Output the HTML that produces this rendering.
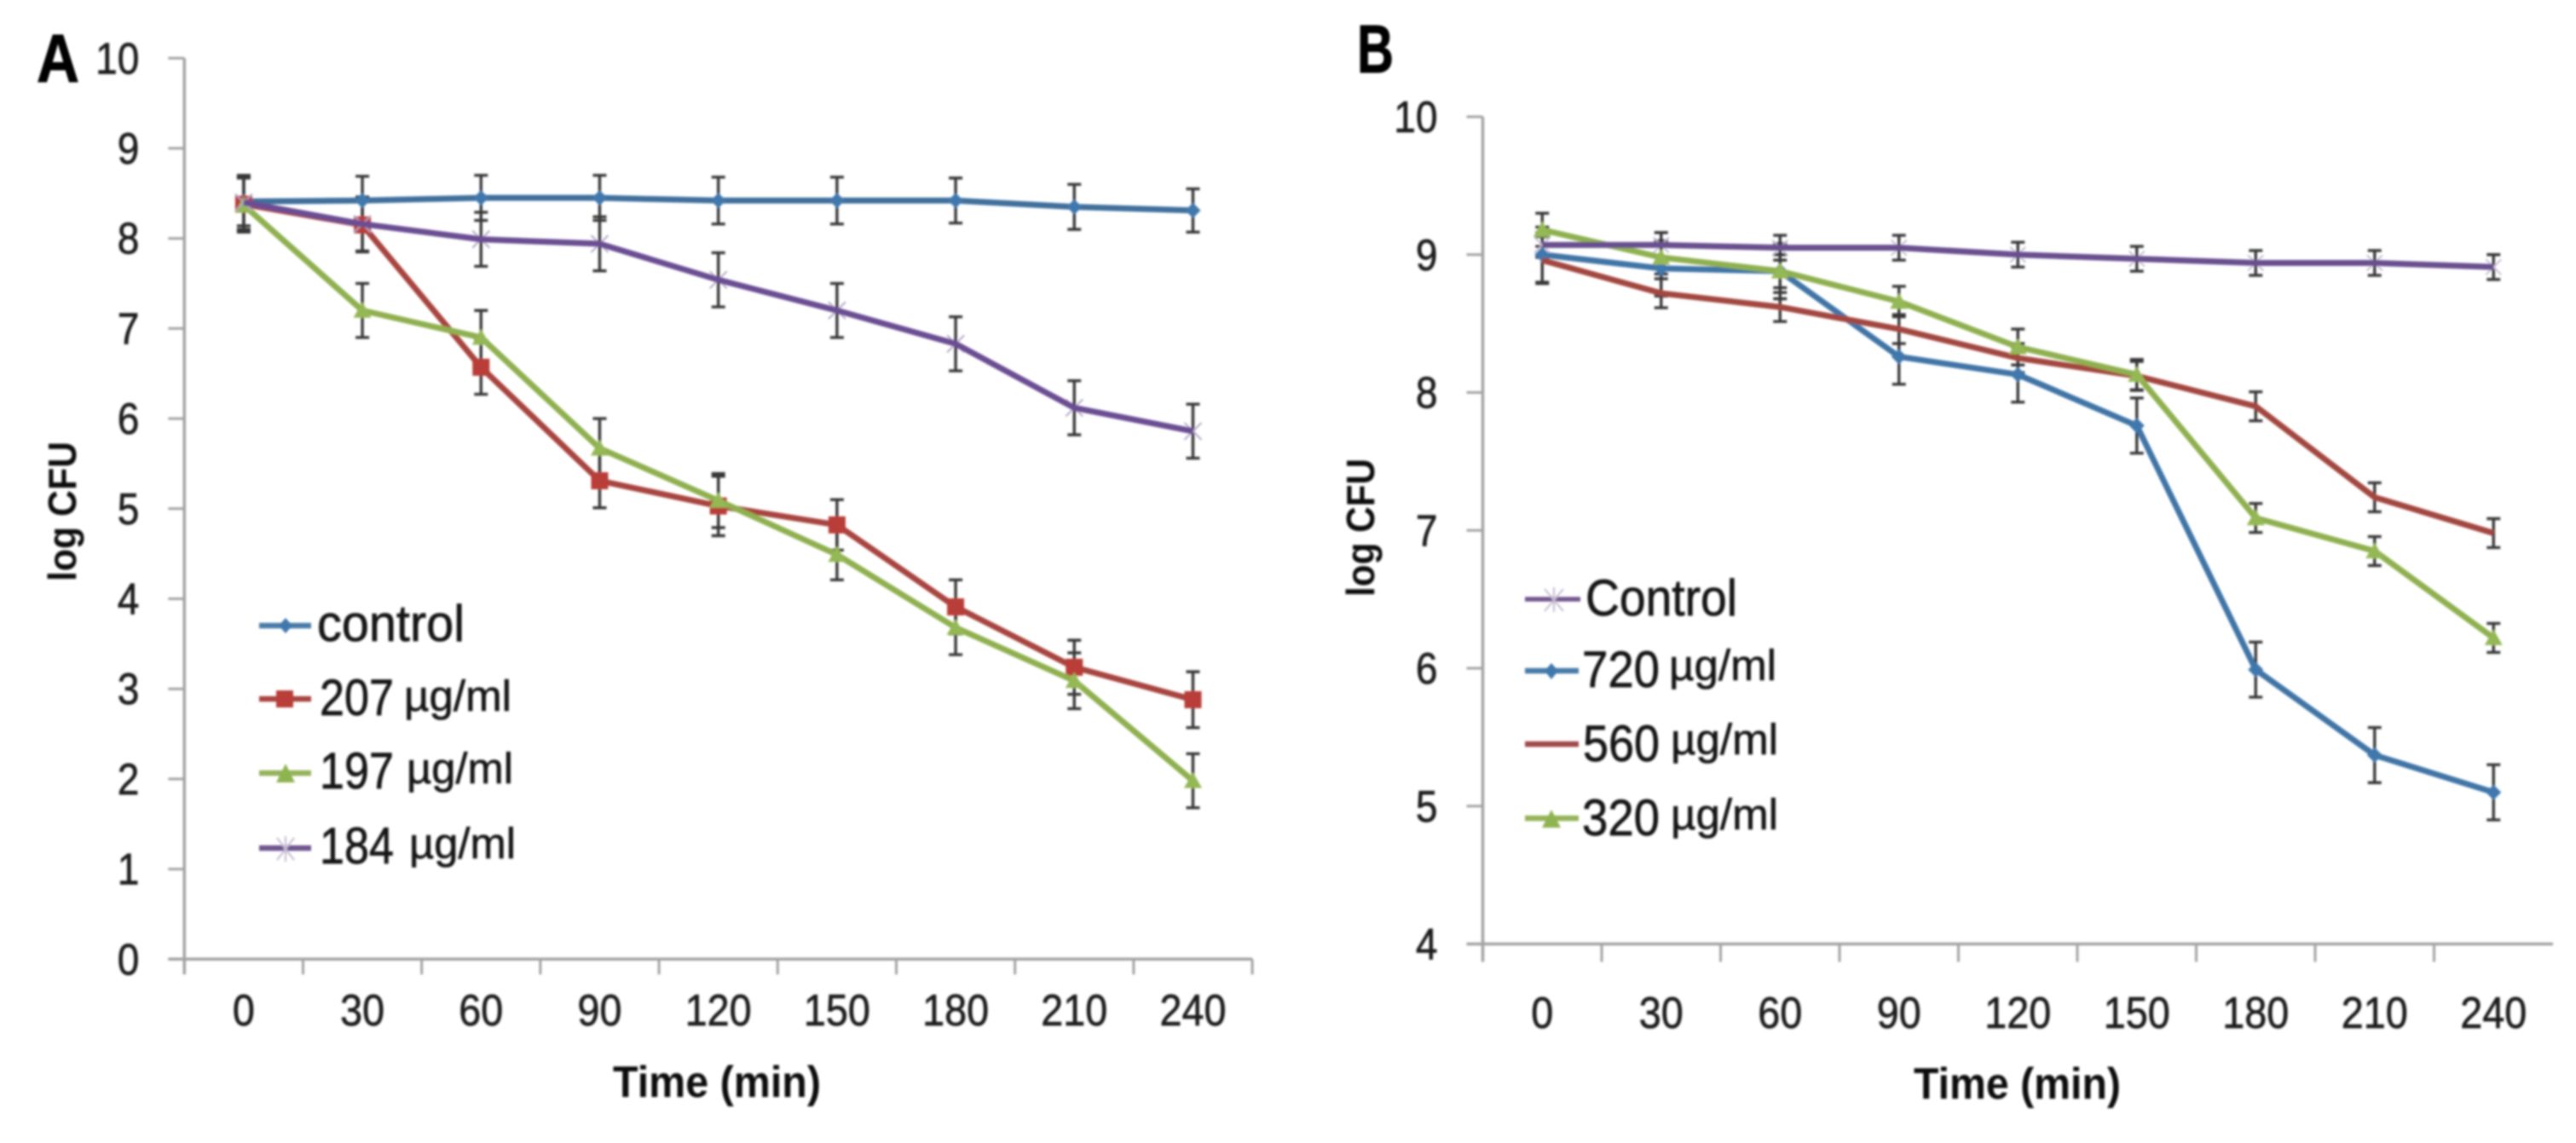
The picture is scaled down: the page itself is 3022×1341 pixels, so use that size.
<!DOCTYPE html>
<html lang="en">
<head>
<meta charset="utf-8">
<title>log CFU over time, panels A and B</title>
<style>
html,body{margin:0;padding:0;background:#fff;}
svg{display:block;}
text{font-family:"Liberation Sans",sans-serif;}
.tick{fill:#1f1f1f;font-size:52px;stroke:#1f1f1f;stroke-width:0.7px;}
.leg{fill:#141414;font-size:60px;stroke:#141414;stroke-width:0.7px;}
.unit{fill:#141414;font-size:51px;stroke:#141414;stroke-width:0.6px;}
.title{fill:#111;font-size:52px;font-weight:bold;}
.panel{fill:#000;font-size:80px;font-weight:bold;stroke:#000;stroke-width:1px;}
</style>
</head>
<body>
<svg id="figure" xmlns="http://www.w3.org/2000/svg" width="3022" height="1341" viewBox="0 0 3022 1341">
  <defs>
    <filter id="soft" filterUnits="userSpaceOnUse" x="0" y="0" width="3022" height="1341">
      <feGaussianBlur stdDeviation="1.3"/>
    </filter>
  </defs>
  <rect x="0" y="0" width="3022" height="1341" fill="#fff"/>
  <g id="root" filter="url(#soft)">

    <text class="panel" x="43" y="96" textLength="50" lengthAdjust="spacingAndGlyphs">A</text>
    <text class="panel" x="1592" y="85" textLength="43" lengthAdjust="spacingAndGlyphs">B</text>

    <text class="title" x="719" y="1287" textLength="244" lengthAdjust="spacingAndGlyphs">Time (min)</text>
    <text class="title" x="2245" y="1289" textLength="243" lengthAdjust="spacingAndGlyphs">Time (min)</text>
    <text class="title" transform="translate(89,682) rotate(-90)" style="font-size:46px" textLength="164" lengthAdjust="spacingAndGlyphs">log CFU</text>
    <text class="title" transform="translate(1612,700) rotate(-90)" style="font-size:46px" textLength="162" lengthAdjust="spacingAndGlyphs">log CFU</text>

    <g id="chart-a"></g>
    <g id="chart-b"></g>

    <g>
      <g>
        <line x1="304" x2="365" y1="734" y2="734" stroke="#4a7ba8" stroke-width="6.5"/>
        <polygon points="335,725 343,734 335,743 327,734" fill="#3f78ad"/>
        <text class="leg" x="372" y="752" textLength="173" lengthAdjust="spacingAndGlyphs">control</text>
      </g>
      <g>
        <line x1="304" x2="365" y1="820" y2="820" stroke="#a8443f" stroke-width="6.5"/>
        <rect x="324" y="810" width="20" height="20" fill="#b93c39"/>
        <text class="leg" x="375" y="839" textLength="87" lengthAdjust="spacingAndGlyphs">207</text>
        <text class="unit" x="474" y="834" textLength="126" lengthAdjust="spacingAndGlyphs">µg/ml</text>
      </g>
      <g>
        <line x1="304" x2="365" y1="907" y2="907" stroke="#94b35a" stroke-width="6.5"/>
        <polygon points="335,896 346,918 324,918" fill="#8fb450"/>
        <text class="leg" x="375" y="925" textLength="87" lengthAdjust="spacingAndGlyphs">197</text>
        <text class="unit" x="477" y="919" textLength="125" lengthAdjust="spacingAndGlyphs">µg/ml</text>
      </g>
      <g>
        <line x1="304" x2="365" y1="995" y2="995" stroke="#6f5490" stroke-width="6.5"/>
        <path d="M325 983L345 1009M345 983L325 1009M335 981V1011" stroke="#c4bad2" stroke-width="2" fill="none"/>
        <text class="leg" x="375" y="1013" textLength="87" lengthAdjust="spacingAndGlyphs">184</text>
        <text class="unit" x="480" y="1007" textLength="125" lengthAdjust="spacingAndGlyphs">µg/ml</text>
      </g>
    </g>

    <g>
      <g>
        <line x1="1789" x2="1854" y1="703" y2="703" stroke="#75598f" stroke-width="5.5"/>
        <path d="M1812 691L1834 717M1834 691L1812 717M1823 689V718" stroke="#c4bad2" stroke-width="2" fill="none"/>
        <text class="leg" x="1860" y="722" textLength="178" lengthAdjust="spacingAndGlyphs">Control</text>
      </g>
      <g>
        <line x1="1789" x2="1852" y1="787" y2="787" stroke="#4a7ba8" stroke-width="6.5"/>
        <polygon points="1820,778 1828,787 1820,797 1812,787" fill="#3f78ad"/>
        <text class="leg" x="1856" y="806" textLength="91" lengthAdjust="spacingAndGlyphs">720</text>
        <text class="unit" x="1958" y="798" textLength="126" lengthAdjust="spacingAndGlyphs">µg/ml</text>
      </g>
      <g>
        <line x1="1789" x2="1852" y1="873" y2="873" stroke="#a0484a" stroke-width="6.5"/>
        <text class="leg" x="1857" y="893" textLength="90" lengthAdjust="spacingAndGlyphs">560</text>
        <text class="unit" x="1960" y="885" textLength="126" lengthAdjust="spacingAndGlyphs">µg/ml</text>
      </g>
      <g>
        <line x1="1789" x2="1852" y1="960" y2="960" stroke="#94b35a" stroke-width="6.5"/>
        <polygon points="1820,950 1831,971 1809,971" fill="#8fb450"/>
        <text class="leg" x="1856" y="980" textLength="91" lengthAdjust="spacingAndGlyphs">320</text>
        <text class="unit" x="1960" y="973" textLength="126" lengthAdjust="spacingAndGlyphs">µg/ml</text>
      </g>
    </g>
  </g>
</svg>
<script>
const timeLabels = [0, 30, 60, 90, 120, 150, 180, 210, 240];
const yTicksA = [0, 1, 2, 3, 4, 5, 6, 7, 8, 9, 10];
const yTicksB = [4, 5, 6, 7, 8, 9, 10];

const controlA = [8.41, 8.42, 8.45, 8.45, 8.42, 8.42, 8.42, 8.35, 8.31];
const controlAErr = [0.27, 0.27, 0.25, 0.25, 0.26, 0.26, 0.25, 0.25, 0.24];
const dose207 = [8.38, 8.15, 6.57, 5.31, 5.03, 4.82, 3.91, 3.24, 2.88];
const dose207Err = [0.3, 0.3, 0.3, 0.3, 0.33, 0.28, 0.3, 0.3, 0.31];
const dose197 = [8.37, 7.2, 6.9, 5.67, 5.09, 4.49, 3.68, 3.09, 1.98];
const dose197Err = [0.3, 0.3, 0.3, 0.33, 0.3, 0.28, 0.3, 0.31, 0.3];
const dose184 = [8.4, 8.16, 7.99, 7.94, 7.54, 7.2, 6.83, 6.12, 5.86];
const dose184Err = [0.3, 0.3, 0.3, 0.3, 0.3, 0.3, 0.3, 0.3, 0.3];

const controlB = [9.07, 9.07, 9.05, 9.05, 9.0, 8.97, 8.94, 8.94, 8.91];
const controlBErr = [0.09, 0.09, 0.09, 0.09, 0.09, 0.09, 0.09, 0.09, 0.09];
const dose720 = [9.0, 8.9, 8.88, 8.26, 8.13, 7.76, 5.99, 5.37, 5.1];
const dose720Err = [0.2, 0.2, 0.2, 0.2, 0.2, 0.2, 0.2, 0.2, 0.2];
const dose560 = [8.96, 8.72, 8.62, 8.46, 8.25, 8.12, 7.9, 7.24, 6.98];
const dose560Err = [0.17, 0.105, 0.105, 0.105, 0.105, 0.105, 0.105, 0.105, 0.105];
const dose320 = [9.18, 8.98, 8.88, 8.66, 8.33, 8.13, 7.09, 6.85, 6.22];
const dose320Err = [0.12, 0.12, 0.12, 0.11, 0.13, 0.11, 0.105, 0.105, 0.105];

const SVG_NS = 'http://www.w3.org/2000/svg';
const AXIS_COLOR = '#a3a3a3';
const ERR_COLOR = '#383838';

function make(parent, tag, props) {
  const el = document.createElementNS(SVG_NS, tag);
  for (const k in props) el.setAttribute(k, props[k]);
  parent.appendChild(el);
  return el;
}

function drawMarker(g, kind, x, y, color, s) {
  if (kind === 'diamond') {
    const m = make(g, 'polygon', {points: (x) + ',' + (y - s) + ' ' + (x + s) + ',' + y + ' ' + x + ',' + (y + s) + ' ' + (x - s) + ',' + y, fill: color});
    
    
  } else if (kind === 'square') {
    const m = make(g, 'rect', {x: x - s, y: y - s, width: 2 * s, height: 2 * s, fill: color});
    
    
  } else if (kind === 'triangle') {
    const m = make(g, 'polygon', {points: x + ',' + (y - s) + ' ' + (x + s * 1.05) + ',' + (y + s * 0.85) + ' ' + (x - s * 1.05) + ',' + (y + s * 0.85), fill: color});
    
    
  } else if (kind === 'star') {
    const d = 'M' + (x - s) + ' ' + (y - s) + 'L' + (x + s) + ' ' + (y + s) + 'M' + (x + s) + ' ' + (y - s) + 'L' + (x - s) + ' ' + (y + s);
    const m = make(g, 'path', {d: d, stroke: color, 'stroke-width': 2, fill: 'none'});
    
    
  }
}

function drawChart(rootId, geo, yTicks, seriesList) {
  const root = document.getElementById(rootId);
  const xPos = function (i) { return geo.left + geo.step * (i + 0.5); };
  const yPos = function (v) { return geo.zeroY - geo.unit * (v - geo.minV); };
  const right = geo.left + geo.step * timeLabels.length;
  const bottom = yPos(geo.minV);
  const top = yPos(yTicks[yTicks.length - 1]);

  const yAxis = make(root, 'line', {x1: geo.left, x2: geo.left, y1: top, y2: bottom + geo.tickLen, stroke: AXIS_COLOR, 'stroke-width': 3.5});
  
  
  const xAxis = make(root, 'line', {x1: geo.left - 19, x2: right, y1: bottom, y2: bottom, stroke: AXIS_COLOR, 'stroke-width': 3.5});
  
  

  yTicks.forEach(function (t) {
    const tk = make(root, 'line', {x1: geo.left - 19, x2: geo.left, y1: yPos(t), y2: yPos(t), stroke: AXIS_COLOR, 'stroke-width': 3});
    
    
    const label = String(t);
    const lb = make(root, 'text', {class: 'tick', x: geo.left - 53, y: yPos(t) + 18, 'text-anchor': 'end', textLength: label.length * 25.6, lengthAdjust: 'spacingAndGlyphs'});
    lb.textContent = label;
    
    
  });

  const tickCount = geo.lastTick ? timeLabels.length : timeLabels.length - 1;
  for (let i = 1; i <= tickCount; i++) {
    const tx = geo.left + geo.step * i;
    const tk = make(root, 'line', {x1: tx, x2: tx, y1: bottom, y2: bottom + geo.tickLen, stroke: AXIS_COLOR, 'stroke-width': 3});
    
    
  }

  timeLabels.forEach(function (t, i) {
    const label = String(t);
    const lb = make(root, 'text', {class: 'tick', x: xPos(i), y: geo.labelY, 'text-anchor': 'middle', textLength: label.length * 26, lengthAdjust: 'spacingAndGlyphs'});
    lb.textContent = label;
    
    
  });

  seriesList.forEach(function (s) {
    const errG = make(root, 'g', {});
    
    
    s.values.forEach(function (v, i) {
      const x = xPos(i);
      const yHi = yPos(v + s.errors[i]);
      const yLo = yPos(v - s.errors[i]);
      const d = 'M' + x + ' ' + yHi + 'V' + yLo + 'M' + (x - 8) + ' ' + yHi + 'H' + (x + 8) + 'M' + (x - 8) + ' ' + yLo + 'H' + (x + 8);
      const eb = make(errG, 'path', {d: d, stroke: ERR_COLOR, 'stroke-width': 3.4, fill: 'none'});
      
      
    });
  });

  seriesList.forEach(function (s) {
    const g = make(root, 'g', {});
    
    
    if (s.marker === 'star') {
      s.values.forEach(function (v, i) {
        drawMarker(g, s.marker, xPos(i), yPos(v), s.markerColor, s.size);
      });
    }
    const pts = s.values.map(function (v, i) { return xPos(i) + ',' + yPos(v); }).join(' ');
    const line = make(g, 'polyline', {points: pts, fill: 'none', stroke: s.color, 'stroke-width': 7, 'stroke-linejoin': 'round'});
    
    
    if (s.marker && s.marker !== 'star') {
      s.values.forEach(function (v, i) {
        drawMarker(g, s.marker, xPos(i), yPos(v), s.markerColor, s.size);
      });
    }
  });
}

drawChart('chart-a',
  {left: 216.3, step: 139.2, zeroY: 1125.3, unit: 105.7, minV: 0, tickLen: 18, labelY: 1203, lastTick: true},
  yTicksA,
  [
    {name: 'control-a', values: controlA, errors: controlAErr, color: '#41709c', marker: 'diamond', markerColor: '#3f78ad', size: 9},
    {name: 'dose-207', values: dose207, errors: dose207Err, color: '#a8443f', marker: 'square', markerColor: '#b93c39', size: 10},
    {name: 'dose-197', values: dose197, errors: dose197Err, color: '#8fb04f', marker: 'triangle', markerColor: '#94b855', size: 10},
    {name: 'dose-184', values: dose184, errors: dose184Err, color: '#6b4e93', marker: 'star', markerColor: '#b3a6c6', size: 10}
  ]);

drawChart('chart-b',
  {left: 1739.5, step: 139.5, zeroY: 1107.5, unit: 161.75, minV: 4, tickLen: 21, labelY: 1206, lastTick: false},
  yTicksB,
  [
    {name: 'dose-720', values: dose720, errors: dose720Err, color: '#3f74a6', marker: 'diamond', markerColor: '#3f78ad', size: 9},
    {name: 'dose-560', values: dose560, errors: dose560Err, color: '#a3473f', marker: null, markerColor: '', size: 0},
    {name: 'dose-320', values: dose320, errors: dose320Err, color: '#8fb04f', marker: 'triangle', markerColor: '#94b855', size: 10},
    {name: 'control-b', values: controlB, errors: controlBErr, color: '#69508f', marker: 'star', markerColor: '#c4bad2', size: 9}
  ]);
</script>
</body>
</html>
